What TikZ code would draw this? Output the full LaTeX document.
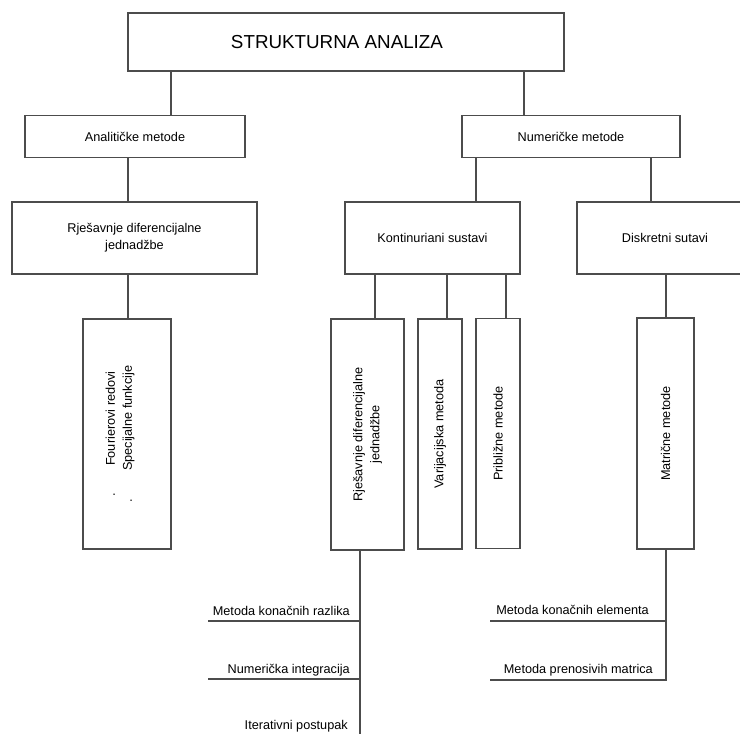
\documentclass[tikz,border=0pt]{standalone}
\usepackage{fontspec}
\setmainfont{Liberation Sans}
\usetikzlibrary{positioning}

\begin{document}
\begin{tikzpicture}[x=1pt,y=-1pt]
  \tikzstyle{every node}=[font=\fontsize{12.7}{17}\selectfont]
  \tikzstyle{box}=[draw=black!70,line width=1.1pt,rectangle,inner sep=0pt,align=center]
  \tikzstyle{vbox}=[box,rotate=90]
  \tikzstyle{link}=[draw=black!70,line width=1.1pt]
  \tikzstyle{method}=[inner sep=0pt,anchor=base east]

  \useasboundingbox (0,0) rectangle (740,734);

  % levels 1 and 2
  \node[box,minimum width=436,minimum height=58,font=\fontsize{18.8}{22}\selectfont] (sa) at (346,42) {\hspace*{-18pt}STRUKTURNA ANALIZA};
  \node[box,minimum width=220,minimum height=42] (anal) at (135,136.5) {Analitičke metode};
  \node[box,minimum width=218,minimum height=42] (num) at (571,136.5) {Numeričke metode};

  % level 3
  \node[box,minimum width=245,minimum height=72] (rjes) at (134.5,238) {Rješavnje diferencijalne\\jednadžbe};
  \node[box,minimum width=175,minimum height=72] (kont) at (432.5,238) {Kontinuriani sustavi};
  \node[box,minimum width=176,minimum height=72] (disk) at (665,238) {Diskretni sutavi};

  % level 4 (vertical boxes)
  \node[vbox,minimum width=230,minimum height=88] (four) at (127,434) {\begin{tabular}{@{}l@{\hspace{22pt}}l@{}}\hspace{6pt}.&\hspace{5pt}Fourierovi redovi\\.&Specijalne funkcije\hspace{12pt}\\[14pt]\end{tabular}};
  \node[vbox,minimum width=231,minimum height=73] (rjesv) at (367.5,434.5) {Rješavnje diferencijalne\\jednadžbe};
  \node[vbox,minimum width=230,minimum height=44] (varij) at (440,434) {Varijacijska metoda};
  \node[vbox,minimum width=230,minimum height=44] (pribl) at (498,433.5) {Približne metode};
  \node[vbox,minimum width=231,minimum height=57] (matr) at (665.5,433.5) {Matrične metode};

  % free ends of the branches
  \coordinate (kend) at (360,734);
  \coordinate (mkr) at (208,621);
  \coordinate (nint) at (208,679);
  \coordinate (mke) at (490,621);
  \coordinate (mpm) at (490,680);

  \node[method] (tmkr) at (350,615) {Metoda konačnih razlika};
  \node[method] (tnint) at (350,673) {Numerička integracija};
  \node[method] (titer) at (348,729) {Iterativni postupak};
  \node[method] (tmke) at (649,614) {Metoda konačnih elementa};
  \node[method] (tmpm) at (653,673) {Metoda prenosivih matrica};

  % connectors
  \draw[link] (sa.south -| 171,0) -- (anal.north -| 171,0);
  \draw[link] (sa.south -| 524,0) -- (num.north -| 524,0);
  \draw[link] (anal.south -| 128,0) -- (rjes.north -| 128,0);
  \draw[link] (rjes.south -| 128,0) -- (four.east -| 128,0);
  \draw[link] (num.south -| 476,0) -- (kont.north -| 476,0);
  \draw[link] (num.south -| 651,0) -- (disk.north -| 651,0);
  \draw[link] (kont.south -| 375,0) -- (rjesv.east -| 375,0);
  \draw[link] (kont.south -| 447,0) -- (varij.east -| 447,0);
  \draw[link] (kont.south -| 506,0) -- (pribl.east -| 506,0);
  \draw[link] (disk.south -| 666,0) -- (matr.east -| 666,0);

  \draw[link] (rjesv.west -| kend) -- (kend);
  \draw[link] (mkr -| kend) -- (mkr);
  \draw[link] (nint -| kend) -- (nint);
  \draw[link] (matr.west -| 666,0) |- (mpm);
  \draw[link] (mke -| 666,0) -- (mke);
\end{tikzpicture}
\end{document}
